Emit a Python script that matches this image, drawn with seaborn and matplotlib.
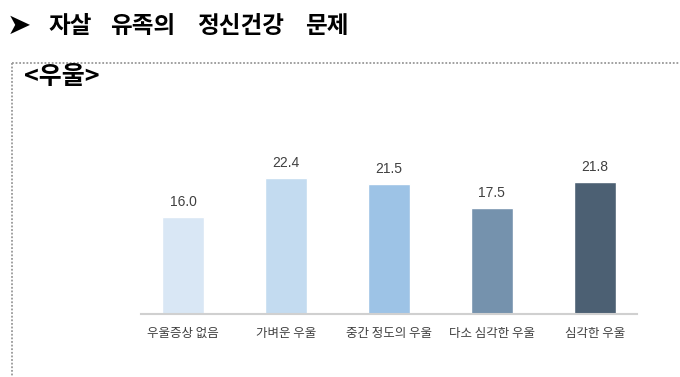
import pandas as pd
import matplotlib.pyplot as plt
import seaborn as sns
from matplotlib.lines import Line2D

# 데이터
categories = ['우울증상 없음', '가벼운 우울', '중간 정도의 우울', '다소 심각한 우울', '심각한 우울']
values = [16.0, 22.4, 21.5, 17.5, 21.8]
colors = ['#D9E7F5', '#C3DBF0', '#9DC3E6', '#7592AD', '#4C6073']
title_words = ['자살', '유족의', '정신건강', '문제']
title_x = [48, 110, 197, 305]  # 단어별 시작 위치(px)

df = pd.DataFrame({'category': categories, 'value': values})

sns.set_style('white')
plt.rcParams['font.family'] = ['Noto Sans CJK KR', 'DejaVu Sans']

fig = plt.figure(figsize=(6.8, 3.77), dpi=100)
ax = fig.add_axes([141 / 680, 63 / 377, 496 / 680, 169.4 / 377])

sns.barplot(data=df, x='category', y='value', hue='category', order=categories,
            palette=colors, legend=False, width=0.41, saturation=1, ax=ax)

for i, v in enumerate(values):
    ax.annotate(f'{v:.1f}', (i, v), xytext=(0, 6), textcoords='offset points',
                ha='center', va='bottom', fontsize=10, color='#404040',
                family='Liberation Sans')

ax.set_xlim(-0.41, 4.41)
ax.set_ylim(0, 28)
ax.set_xlabel('')
ax.set_ylabel('')
ax.set_yticks([])
ax.tick_params(axis='x', length=0, pad=9, labelsize=9, labelcolor='#404040')
for s in ['top', 'right', 'left']:
    ax.spines[s].set_visible(False)
ax.spines['bottom'].set_color('#D0D0D0')
ax.spines['bottom'].set_linewidth(1.5)

# 제목
fig.text(7 / 680, 1 - 26 / 377, '➤', fontsize=21, family='DejaVu Sans',
         va='center', ha='left', color='black')
for w, x in zip(title_words, title_x):
    fig.text(x / 680, 1 - 26 / 377, w, fontsize=17, fontweight='bold',
             va='center', ha='left', color='black')
fig.text(24 / 680, 1 - 77 / 377, '<우울>', fontsize=18, fontweight='bold',
         va='center', ha='left', color='black')

# 점선 상자
fig.add_artist(Line2D([12 / 680, 1.0], [1 - 63 / 377, 1 - 63 / 377], transform=fig.transFigure,
                      color='#999999', linestyle=(0, (1, 1)), linewidth=1.3))
fig.add_artist(Line2D([12 / 680, 12 / 680], [1 - 63 / 377, 0], transform=fig.transFigure,
                      color='#999999', linestyle=(0, (1, 1)), linewidth=1.3))

plt.savefig('out.png', dpi=100)
